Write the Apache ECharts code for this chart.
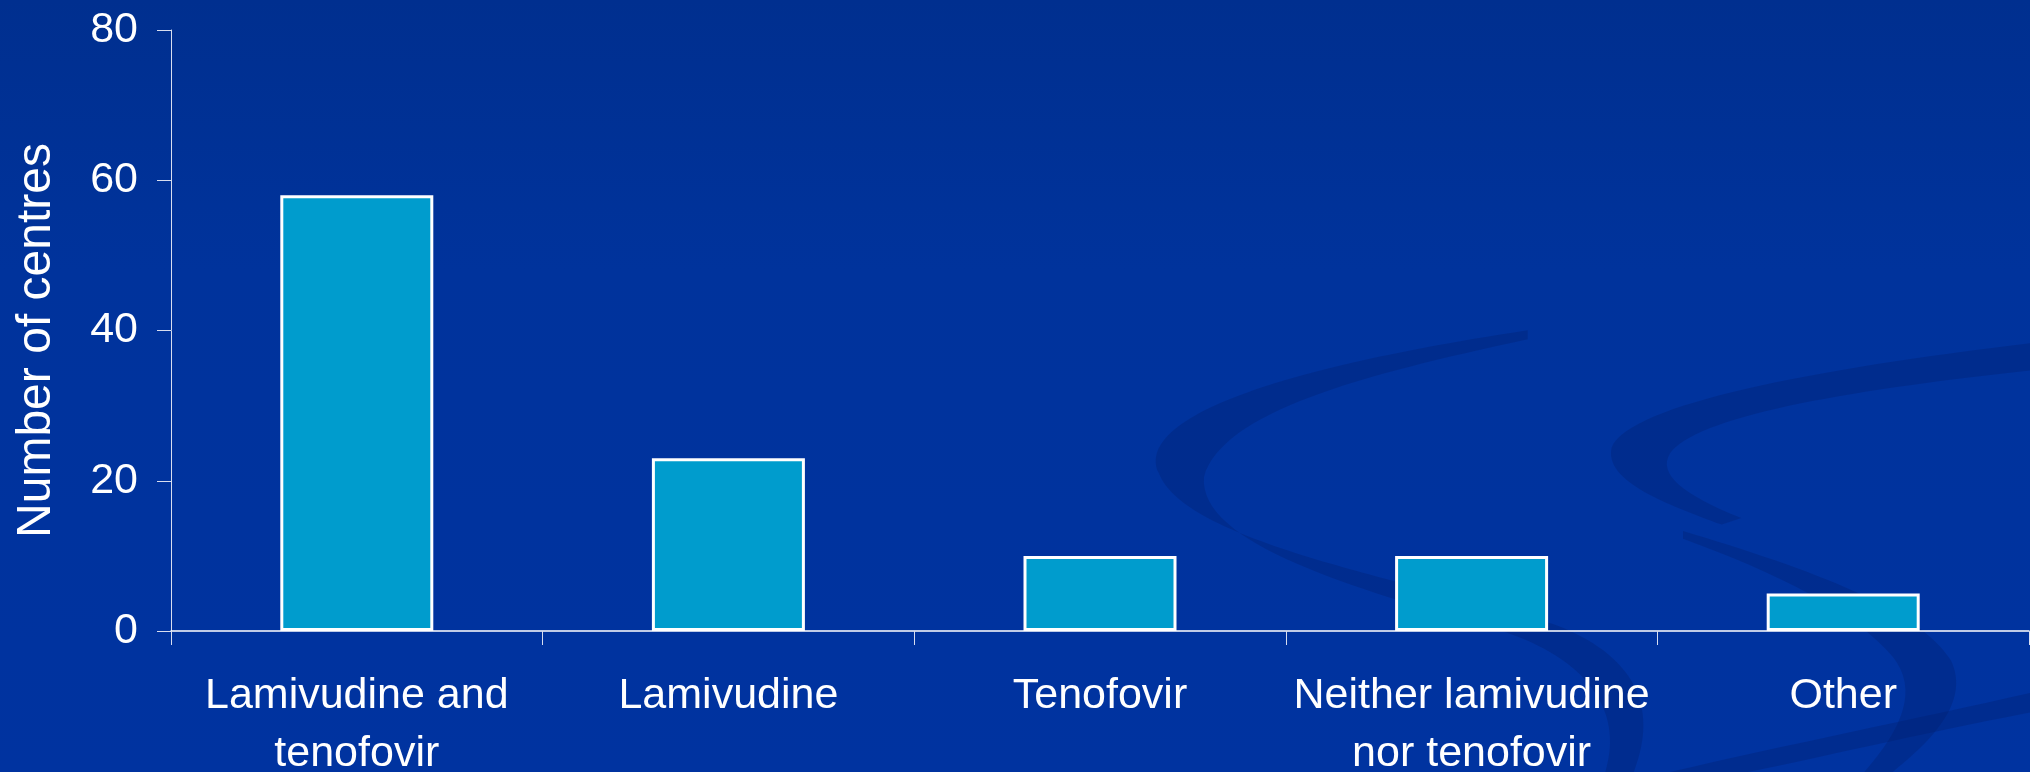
<!DOCTYPE html>
<html>
<head>
<meta charset="utf-8">
<script src="https://cdn.jsdelivr.net/npm/echarts@6/dist/echarts.min.js"></script>
<style>
  html, body { margin: 0; padding: 0; background: #0033a0; }
  #chart { width: 2030px; height: 772px; }
</style>
</head>
<body>
<div id="chart"></div>
<script>
// Antiviral strategy reported by centres
const categories = [
  'Lamivudine and\ntenofovir',
  'Lamivudine',
  'Tenofovir',
  'Neither lamivudine\nnor tenofovir',
  'Other'
];
const centres = [58, 23, 10, 10, 5];
const yTicks = { min: 0, max: 80, interval: 20 };

const FONT = "'Liberation Sans', Arial, sans-serif";
const SWOOSH = 'rgba(0, 30, 110, 0.32)';

// decorative background swirls, drawn on a 1568x596 design grid and scaled up
const swirlPaths = [
  'M1180 255 C950 290 880 330 895 365 C915 420 1100 450 1200 482 C1262 505 1282 545 1262 596 L1240 596 C1255 548 1225 505 1150 484 C1050 455 925 420 930 368 C945 318 1050 290 1180 262 Z',
  'M1568 265 C1400 285 1260 312 1245 345 C1238 372 1290 390 1330 405 L1345 400 C1300 382 1280 366 1290 350 C1310 322 1420 302 1568 286 Z',
  'M1300 410 C1400 440 1482 470 1507 510 C1522 542 1492 572 1462 596 L1440 596 C1470 562 1482 532 1462 507 C1432 472 1372 442 1300 416 Z',
  'M1290 596 C1380 575 1480 555 1568 535 L1568 550 C1480 567 1400 586 1350 596 Z'
];

const chart = echarts.init(document.getElementById('chart'), null, { renderer: 'canvas' });

chart.setOption({
  backgroundColor: {
    type: 'linear', x: 0, y: 0, x2: 0, y2: 1,
    colorStops: [
      { offset: 0, color: '#002f8f' },
      { offset: 0.35, color: '#00339c' },
      { offset: 1, color: '#0033a0' }
    ]
  },
  grid: {
    left: 171, right: 1, top: 30, bottom: 141,
    containLabel: false,
    outerBoundsMode: 'none'
  },
  xAxis: {
    type: 'category',
    data: categories,
    boundaryGap: true,
    axisLine: { show: true, lineStyle: { color: '#ffffff', width: 1.5 } },
    axisTick: { show: true, length: 14, lineStyle: { color: '#d8def0', width: 1 } },
    axisLabel: {
      interval: 0,
      color: '#ffffff',
      fontFamily: FONT,
      fontSize: 43,
      lineHeight: 58,
      margin: 36
    },
    splitLine: { show: false }
  },
  yAxis: {
    type: 'value',
    min: yTicks.min,
    max: yTicks.max,
    interval: yTicks.interval,
    name: 'Number of centres',
    nameLocation: 'middle',
    nameGap: 110,
    nameTextStyle: {
      color: '#ffffff',
      fontFamily: FONT,
      fontSize: 48,
      padding: [0, 20, 0, 0]
    },
    axisLine: { show: true, lineStyle: { color: '#d8def0', width: 1 } },
    axisTick: { show: true, length: 14, lineStyle: { color: '#d8def0', width: 1 } },
    axisLabel: { color: '#ffffff', fontFamily: FONT, fontSize: 43, margin: 33 },
    splitLine: { show: false }
  },
  series: [
    {
      type: 'custom',
      coordinateSystem: 'none',
      silent: true,
      z: -1,
      data: [0],
      renderItem: function () {
        return {
          type: 'group',
          scaleX: 2030 / 1568,
          scaleY: 772 / 596,
          children: swirlPaths.map(function (d) {
            return { type: 'path', shape: { pathData: d }, style: { fill: SWOOSH } };
          })
        };
      }
    },
    {
      type: 'bar',
      data: centres,
      barWidth: 153,
      itemStyle: { color: '#009ccd', borderColor: '#ffffff', borderWidth: 3 },
      z: 3
    }
  ],
  animation: false
});
</script>
</body>
</html>
